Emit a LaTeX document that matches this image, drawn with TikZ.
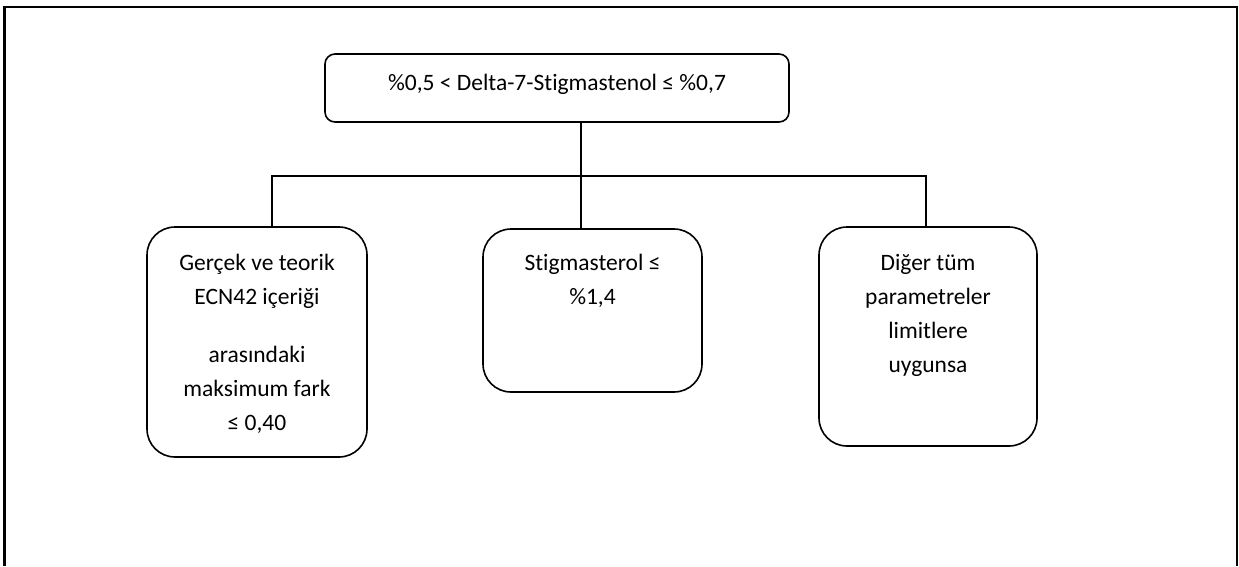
\documentclass[tikz,border=0pt]{standalone}
\usepackage{fontspec}
\setmainfont{Carlito}[Ligatures=NoCommon]
\usetikzlibrary{calc}

\begin{document}
\begin{tikzpicture}[x=1pt,y=-1pt,
  kutu/.style={draw,line width=1.6pt,rounded corners=28pt,inner sep=0pt,font=\fontsize{23.5pt}{34pt}\selectfont},
  baglanti/.style={draw,line width=1.5pt}]
\useasboundingbox (0,0) rectangle (1239,566);
\draw[line width=2.4pt] (4.5,566) -- (4.5,7) -- (1237,7) -- (1237,566);

\node[kutu,rounded corners=10pt] (ust) at (557,88) {\parbox[c][68pt][t]{464pt}{\centering\rule{0pt}{36pt}\%0,5 < Delta-7-Stigmastenol ≤ \%0,7}};
\node[kutu] (gercek) at (257,342) {\parbox[c][230pt][t]{220pt}{\centering\rule{0pt}{43pt}Gerçek ve teorik\\ ECN42 içeriği\\[24pt] arasındaki\\ maksimum fark\\ ≤ 0,40}};
\node[kutu] (orta) at (592.5,310.5) {\parbox[c][163pt][t]{219pt}{\centering\rule{0pt}{41pt}Stigmasterol ≤\\ \%1,4}};
\node[kutu] (diger) at (928,336.5) {\parbox[c][219pt][t]{218pt}{\centering\rule{0pt}{43pt}Diğer tüm\\ parametreler\\ limitlere\\ uygunsa}};

\coordinate (ayrim) at (581,176);
\draw[baglanti] (ust.south -| ayrim) -- (orta.north -| ayrim);
\draw[baglanti] ([xshift=15pt]gercek.north) |- (ayrim) -| ([xshift=-2pt]diger.north);
\end{tikzpicture}
\end{document}
